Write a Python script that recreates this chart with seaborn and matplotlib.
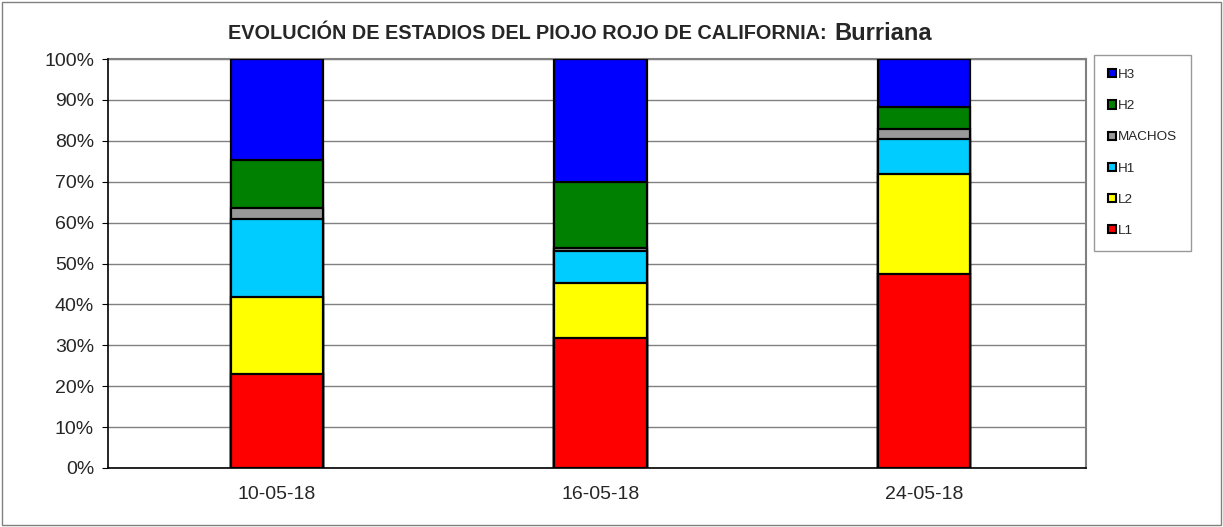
import numpy as np
import pandas as pd
import matplotlib
matplotlib.use("Agg")
import matplotlib.pyplot as plt
from matplotlib.patches import Rectangle, Patch
import seaborn as sns

# datos (porcentaje por estadio)
fechas = ["10-05-18", "16-05-18", "24-05-18"]
estadios = ["L1", "L2", "H1", "MACHOS", "H2", "H3"]
L1 = [22.9, 31.9, 47.4]
L2 = [19.0, 13.3, 24.4]
H1 = [19.1, 7.9, 8.6]
MACHOS = [2.6, 0.7, 2.6]
H2 = [11.7, 16.1, 5.2]
H3 = [24.7, 30.1, 11.8]
colores = ["#ff0000", "#ffff00", "#00ccff", "#999999", "#008000", "#0000ff"]

series = [L1, L2, H1, MACHOS, H2, H3]
acum = np.cumsum(np.array(series), axis=0)
df = pd.DataFrame({
    "fecha": np.tile(fechas, len(estadios)),
    "estadio": np.repeat(estadios, len(fechas)),
    "acum": acum.flatten(),
})

sns.set_style("white")
plt.rcParams["font.family"] = ["Liberation Sans", "DejaVu Sans"]

fig = plt.figure(figsize=(12.23, 5.27), dpi=100)
ax = fig.add_axes([108 / 1223, 1 - 468 / 527, (1086 - 108) / 1223, (468 - 59) / 527])

# apilado: se dibuja de arriba (acumulado total) hacia abajo
for est, col in reversed(list(zip(estadios, colores))):
    sns.barplot(data=df[df.estadio == est], x="fecha", y="acum", color=col,
                width=0.286, edgecolor="black", linewidth=1.6, ax=ax,
                saturation=1, zorder=3)

ax.set_ylim(0, 100)
ax.set_xlim(-0.522, 2.5)
ax.set_yticks(np.arange(0, 101, 10))
ax.set_yticklabels([f"{v}%" for v in range(0, 101, 10)], fontsize=14)
ax.tick_params(axis="x", labelsize=14, length=0, pad=13)
ax.tick_params(axis="y", length=4, direction="out", left=True, color="black", pad=6)
ax.set_xlabel("")
ax.set_ylabel("")
ax.grid(axis="y", color="#808080", linewidth=1, zorder=0)
for s in ["top", "right"]:
    ax.spines[s].set_color("#808080")
    ax.spines[s].set_linewidth(1.5)
for s in ["left", "bottom"]:
    ax.spines[s].set_color("black")
    ax.spines[s].set_linewidth(1.2)
    ax.spines[s].set_zorder(4)

handles = [Patch(facecolor=c, edgecolor="black", linewidth=1.5, label=e)
           for e, c in zip(estadios, colores)][::-1]
leg = fig.legend(handles=handles, loc="upper left",
                 bbox_to_anchor=(1094 / 1223, 1 - 55 / 527),
                 fontsize=9.7, frameon=True, fancybox=False,
                 handlelength=0.55, handleheight=0.55, handletextpad=0.15,
                 labelspacing=1.42, borderpad=1.05, borderaxespad=0)
leg.get_frame().set_edgecolor("#808080")
leg.get_frame().set_linewidth(1)

fig.text(832 / 1223, 1 - 34 / 527, "EVOLUCIÓN DE ESTADIOS DEL PIOJO ROJO DE CALIFORNIA: ",
         ha="right", va="center", fontsize=14.3, fontweight="bold")
fig.text(834 / 1223, 1 - 33 / 527, "Burriana",
         ha="left", va="center", fontsize=17, fontweight="bold")

fig.patches.append(Rectangle((0.002, 0.003), 0.996, 0.994, transform=fig.transFigure,
                             fill=False, edgecolor="#808080", linewidth=1))

fig.savefig("out.png", dpi=100)
